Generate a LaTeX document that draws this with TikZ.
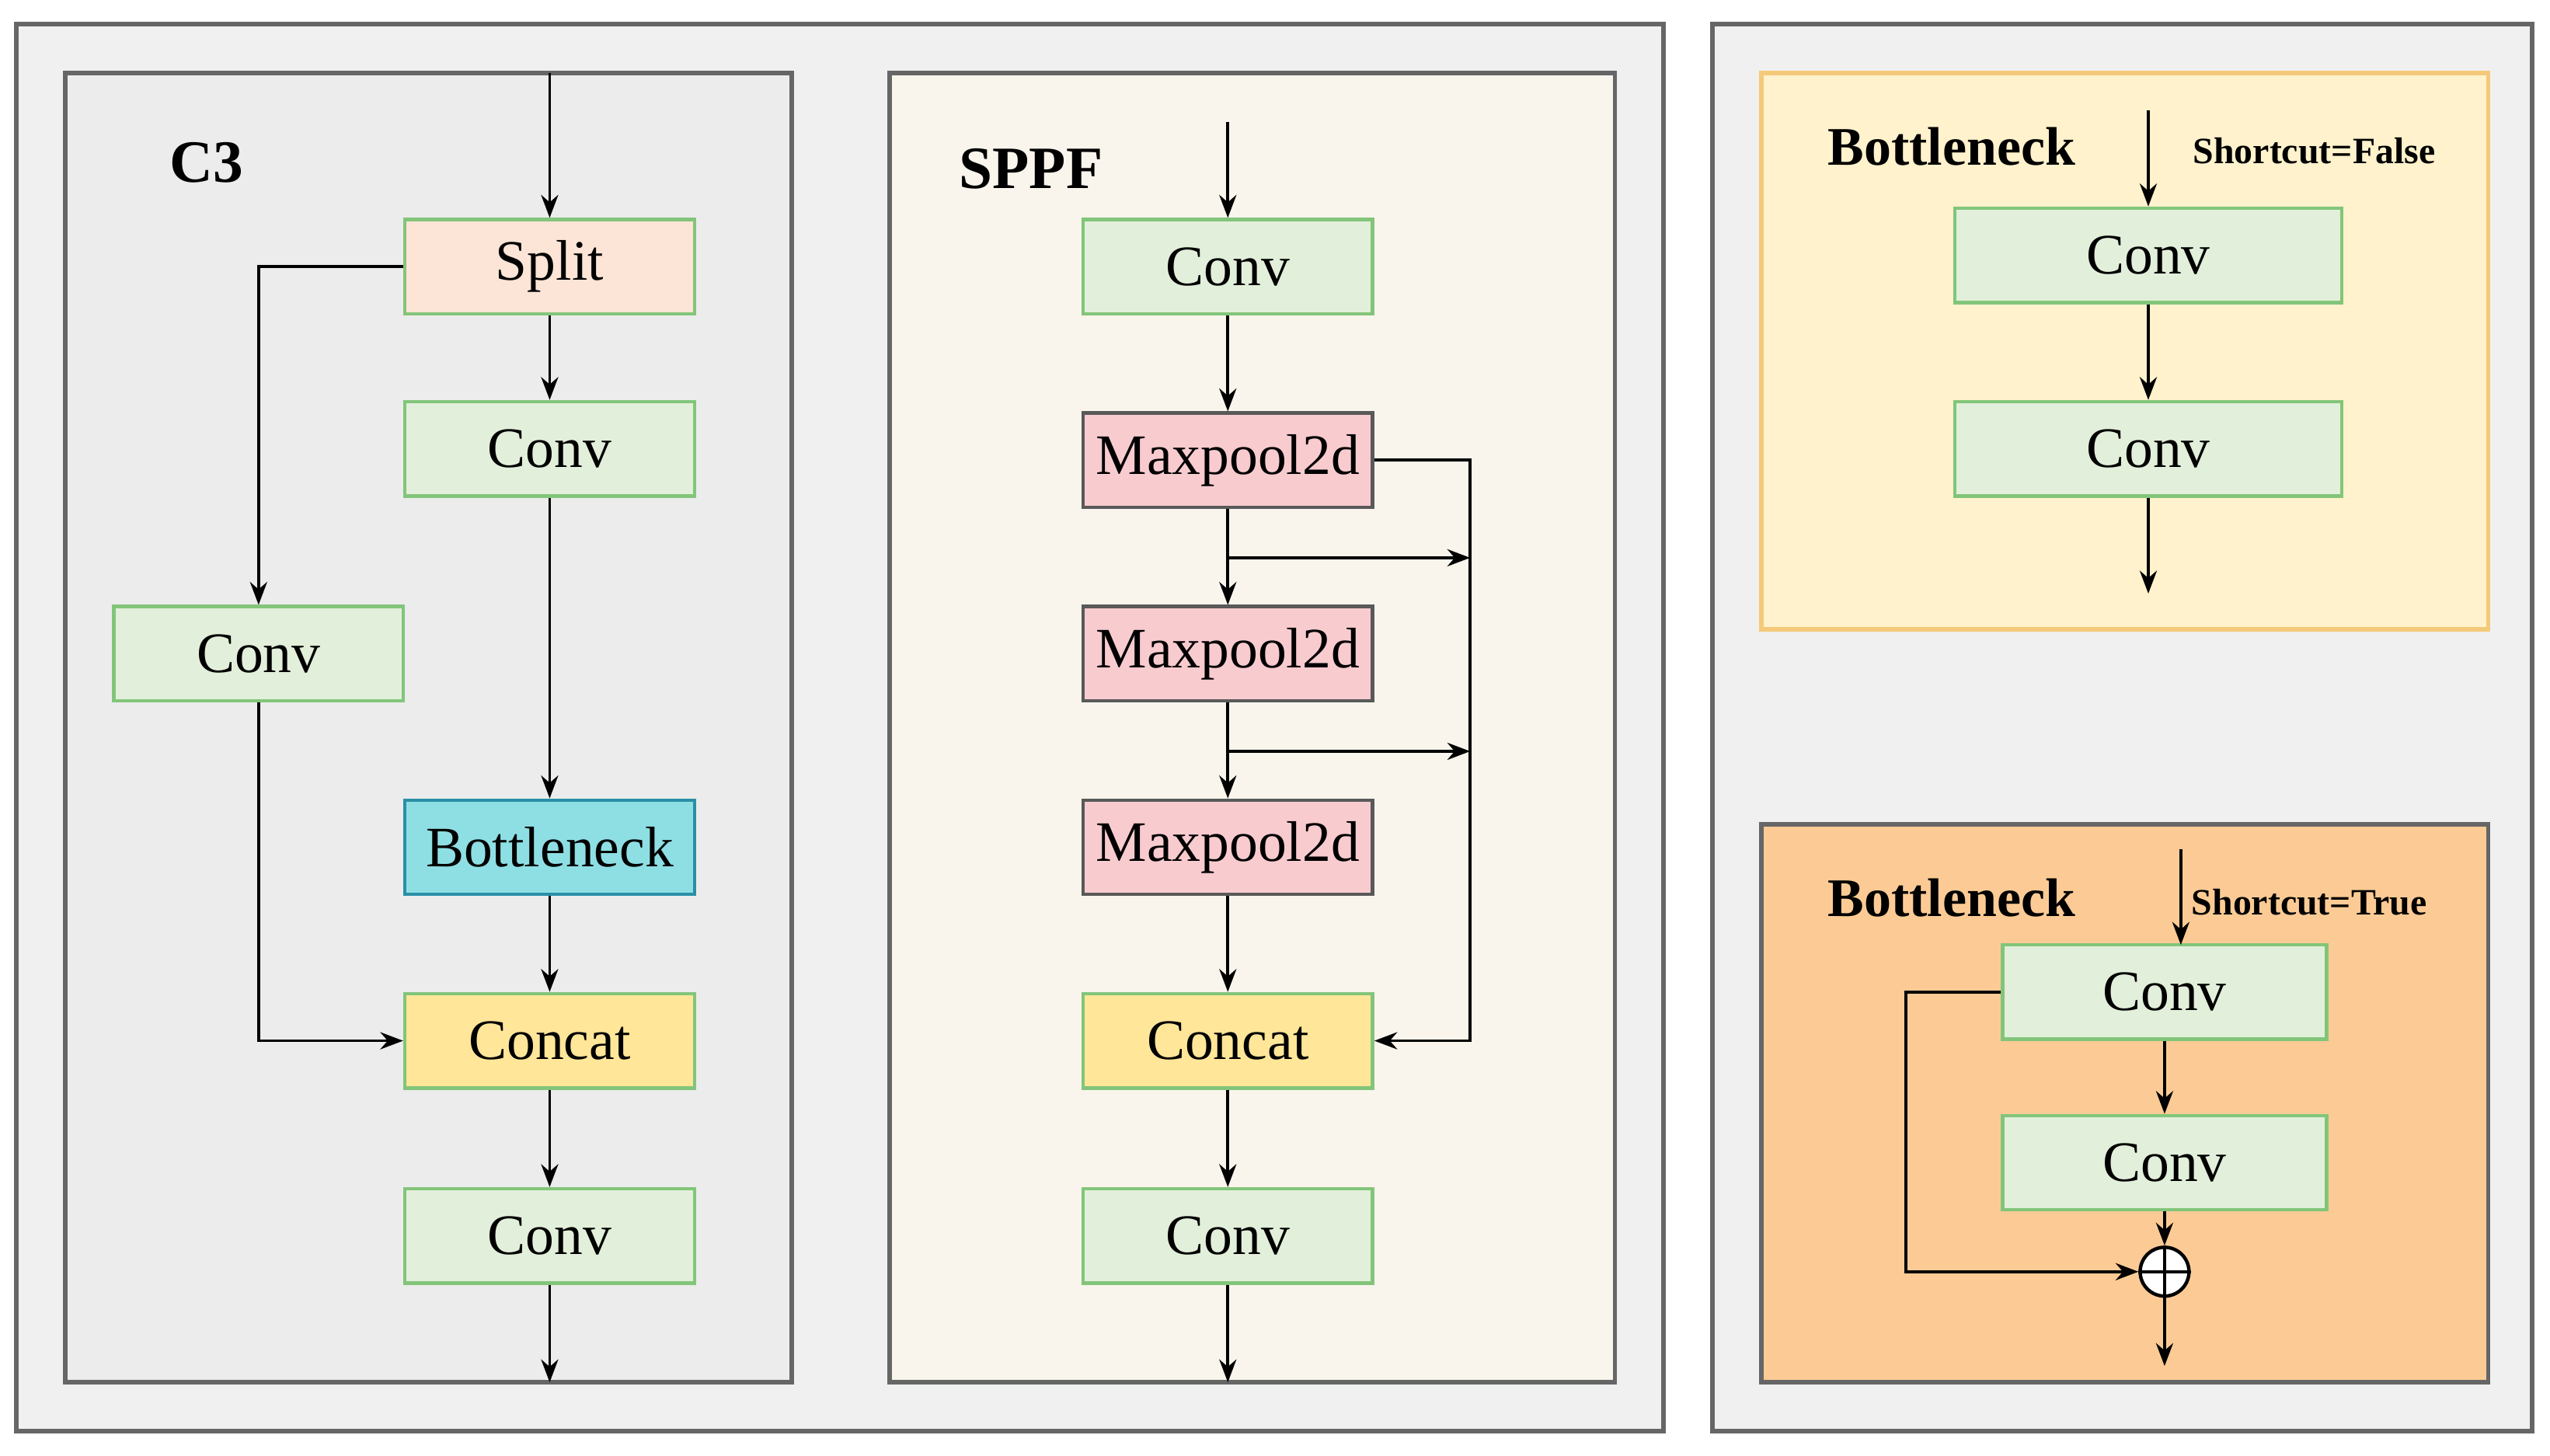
\documentclass[tikz,border=0pt]{standalone}
\usepackage{fontspec}
\setmainfont{Liberation Serif}
\usetikzlibrary{arrows.meta}
\definecolor{gfill}{HTML}{E2EFDA}
\definecolor{gdraw}{HTML}{82C57A}
\definecolor{cfill}{HTML}{FFE699}
\definecolor{bfill}{HTML}{8EDFE4}
\definecolor{bdraw}{HTML}{2A8FA6}
\definecolor{mfill}{HTML}{F8CBCF}
\definecolor{sfill}{HTML}{FCE4D6}
\definecolor{tfill}{HTML}{FFF2CC}
\definecolor{tdraw}{HTML}{F4C97A}
\definecolor{ofill}{HTML}{FCCB95}
\definecolor{ppfill}{HTML}{F9F5EC}
\begin{document}
\begin{tikzpicture}[x=0.01cm,y=-0.01cm,
 box/.style={line width=0.6pt,minimum height=0.58cm,inner sep=0pt,font=\fontsize{10}{11}\selectfont},
 gbox/.style={box,fill=gfill,draw=gdraw,minimum width=1.78cm},
 arr/.style={-{Stealth[length=4pt,width=3pt]},line width=0.5pt},
 panel/.style={draw=gray!80!black,line width=0.8pt}]
\useasboundingbox (0,0) rectangle (1568,895);
\fill[white] (0,0) rectangle (1568,895);
\draw[panel,fill=gray!12] (10,15) rectangle (1023,880);
\draw[panel,fill=gray!12] (1053,15) rectangle (1557,880);
\draw[panel,fill=gray!15] (40,45) rectangle (487,850);
\draw[panel,fill=ppfill] (547,45) rectangle (993,850);
\draw[draw=tdraw,line width=0.8pt,fill=tfill] (1083,45) rectangle (1530,387);
\draw[panel,fill=ofill] (1083,507) rectangle (1530,850);
% C3
\node[font=\bfseries\fontsize{10.5}{12}\selectfont] at (127,100) {C3};
\node[gbox,fill=sfill] (sp) at (338,164) {Split};
\node[gbox] (c1) at (338,276) {Conv};
\node[gbox] (c2) at (159,402) {Conv};
\node[gbox,fill=bfill,draw=bdraw] (bn) at (338,521) {Bottleneck};
\node[gbox,fill=cfill] (cc) at (338,640) {Concat};
\node[gbox] (c3) at (338,760) {Conv};
\coordinate (cin) at (338,45); \coordinate (cout) at (338,850);
\draw[arr] (cin) -- (sp); \draw[arr] (sp) -- (c1); \draw[arr] (c1) -- (bn);
\draw[arr] (bn) -- (cc); \draw[arr] (cc) -- (c3); \draw[arr] (c3) -- (cout);
\draw[arr] (sp.west) -| (c2.north);
\draw[arr] (c2.south) |- (cc.west);
% SPPF
\node[font=\bfseries\fontsize{10.5}{12}\selectfont] at (634,104) {SPPF};
\tikzset{mp/.style={gbox,fill=mfill,draw=black!65}}
\node[gbox] (s1) at (755,164) {Conv};
\node[mp] (m1) at (755,283) {Maxpool2d};
\node[mp] (m2) at (755,402) {Maxpool2d};
\node[mp] (m3) at (755,521) {Maxpool2d};
\node[gbox,fill=cfill] (sc) at (755,640) {Concat};
\node[gbox] (s2) at (755,760) {Conv};
\coordinate (sin) at (755,75); \coordinate (sout) at (755,850);
\coordinate (b1) at (904,343); \coordinate (b2) at (904,462);
\draw[arr] (sin) -- (s1); \draw[arr] (s1) -- (m1); \draw[arr] (m1) -- (m2);
\draw[arr] (m2) -- (m3); \draw[arr] (m3) -- (sc); \draw[arr] (sc) -- (s2); \draw[arr] (s2) -- (sout);
\draw[arr] (755,343) -- (b1); \draw[arr] (755,462) -- (b2);
\draw[arr] (m1.east) -- (904,283) |- (sc.east);
% Bottleneck top
\tikzset{wbox/.style={gbox,minimum width=2.38cm}, nbox/.style={gbox,minimum width=1.99cm}}
\node[font=\bfseries\fontsize{9.5}{11}\selectfont] at (1200,90) {Bottleneck};
\node[font=\bfseries\fontsize{6.5}{7}\selectfont] at (1423,93) {Shortcut=False};
\node[wbox] (t1) at (1321,157) {Conv};
\node[wbox] (t2) at (1321,276) {Conv};
\coordinate (tin) at (1321,68); \coordinate (tout) at (1321,365);
\draw[arr] (tin) -- (t1); \draw[arr] (t1) -- (t2); \draw[arr] (t2) -- (tout);
% Bottleneck bottom
\node[font=\bfseries\fontsize{9.5}{11}\selectfont] at (1200,552) {Bottleneck};
\node[font=\bfseries\fontsize{6.5}{7}\selectfont] at (1420,555) {Shortcut=True};
\node[nbox] (u1) at (1331,610) {Conv};
\node[nbox] (u2) at (1331,715) {Conv};
\node[circle,draw,fill=white,line width=0.6pt,minimum size=0.3cm,inner sep=0pt] (pl) at (1331,782) {};
\draw[line width=0.6pt] (pl.north) -- (pl.south) (pl.west) -- (pl.east);
\coordinate (uin) at (1341,522); \coordinate (uout) at (1331,840);
\draw[arr] (uin) -- (1341,581);
\draw[arr] (u1) -- (u2); \draw[arr] (u2) -- (pl); \draw[arr] (pl) -- (uout);
\draw[arr] (u1.west) -- (1172,610) |- (pl.west);
\end{tikzpicture}
\end{document}
